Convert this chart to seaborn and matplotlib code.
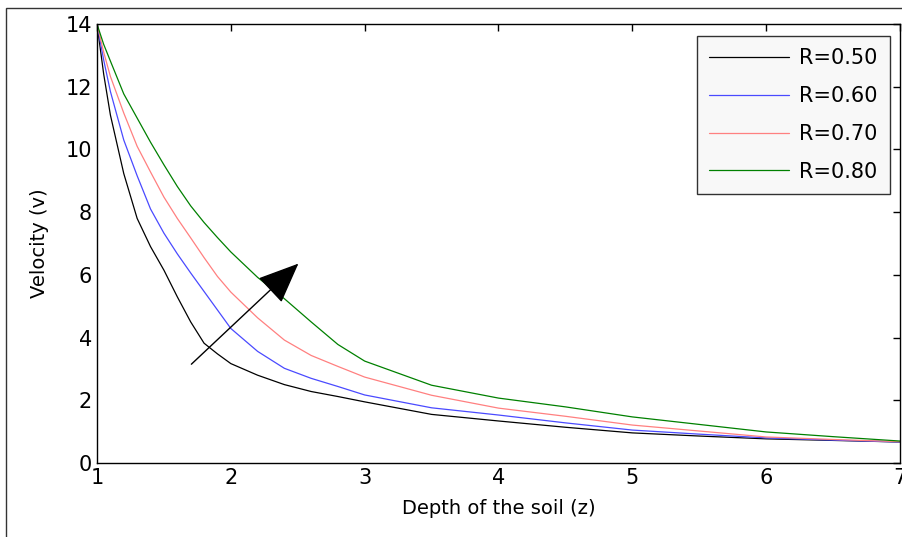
import matplotlib.pyplot as plt
import seaborn as sns
from matplotlib.patches import Rectangle

# depth of the soil (z) and velocity for each R
z = [1.0, 1.05, 1.1, 1.2, 1.3, 1.4, 1.5, 1.6, 1.7, 1.8, 1.9, 2.0, 2.2, 2.4, 2.6, 2.8,
     3.0, 3.5, 4.0, 4.5, 5.0, 5.5, 6.0, 6.5, 7.0]
v_r050 = [14.0, 12.4, 11.1, 9.23, 7.8, 6.9, 6.15, 5.3, 4.5, 3.82, 3.48, 3.17, 2.8, 2.5,
          2.28, 2.12, 1.95, 1.55, 1.34, 1.14, 0.96, 0.86, 0.77, 0.72, 0.67]
v_r060 = [14.0, 12.85, 11.85, 10.3, 9.16, 8.1, 7.33, 6.67, 6.06, 5.47, 4.88, 4.29, 3.56, 3.02,
          2.7, 2.44, 2.17, 1.76, 1.53, 1.28, 1.05, 0.92, 0.8, 0.73, 0.67]
v_r070 = [14.0, 13.1, 12.33, 11.16, 10.1, 9.28, 8.48, 7.8, 7.18, 6.55, 5.95, 5.45, 4.63, 3.92,
          3.43, 3.08, 2.74, 2.16, 1.75, 1.49, 1.21, 1.02, 0.83, 0.75, 0.68]
v_r080 = [14.0, 13.35, 12.82, 11.77, 11.0, 10.23, 9.51, 8.82, 8.2, 7.67, 7.19, 6.73, 5.92, 5.24,
          4.5, 3.78, 3.25, 2.48, 2.07, 1.79, 1.47, 1.23, 0.99, 0.84, 0.7]
labels = ["R=0.50", "R=0.60", "R=0.70", "R=0.80"]
colors = ["black", "#4a4aff", "#ff8080", "#008000"]

sns.set_style("white")
plt.rcParams['font.family'] = ['DejaVu Sans']
plt.rcParams['text.color'] = 'black'
plt.rcParams['axes.labelcolor'] = 'black'

fig = plt.figure(figsize=(9.03, 5.37), dpi=100)
ax = fig.add_axes([97 / 903, 1 - 463 / 537, (900 - 97) / 903, (463 - 24) / 537])

for vals, lab, col in zip([v_r050, v_r060, v_r070, v_r080], labels, colors):
    sns.lineplot(x=z, y=vals, color=col, lw=0.9, label=lab, ax=ax)

# arrow showing increasing R
ax.annotate("", xy=(2.52, 6.42), xytext=(1.69, 3.09),
            arrowprops=dict(arrowstyle="-|>,head_length=1.3,head_width=0.55",
                            color="black", lw=1, mutation_scale=20))

ax.set_xlim(1, 7)
ax.set_ylim(0, 14)
ax.set_xticks([1, 2, 3, 4, 5, 6, 7])
ax.set_yticks([0, 2, 4, 6, 8, 10, 12, 14])
ax.tick_params(direction="in", top=True, right=True, length=5, width=1,
               labelsize=15, colors="black")
for sp in ax.spines.values():
    sp.set_color("black")
    sp.set_linewidth(1)

ax.set_xlabel("Depth of the soil (z)", fontsize=14, labelpad=8)
ax.set_ylabel("Velocity (v)", fontsize=14, labelpad=12)

leg = ax.legend(loc="upper right", bbox_to_anchor=((890 - 97) / 803, (463 - 36) / 439),
                borderaxespad=0, fontsize=15, handlelength=3.8, handletextpad=0.5,
                labelspacing=0.85, borderpad=0.6, fancybox=False, frameon=True)
leg.get_frame().set_edgecolor("black")
leg.get_frame().set_facecolor("#f7f7f7")
leg.get_frame().set_linewidth(1)

# thin outer border of the figure
fig.add_artist(Rectangle((6 / 903, -0.05), 1.0, 1.05 - 8 / 537, transform=fig.transFigure,
                         fill=False, edgecolor="#333333", lw=1))

plt.savefig("out.png", dpi=100)
